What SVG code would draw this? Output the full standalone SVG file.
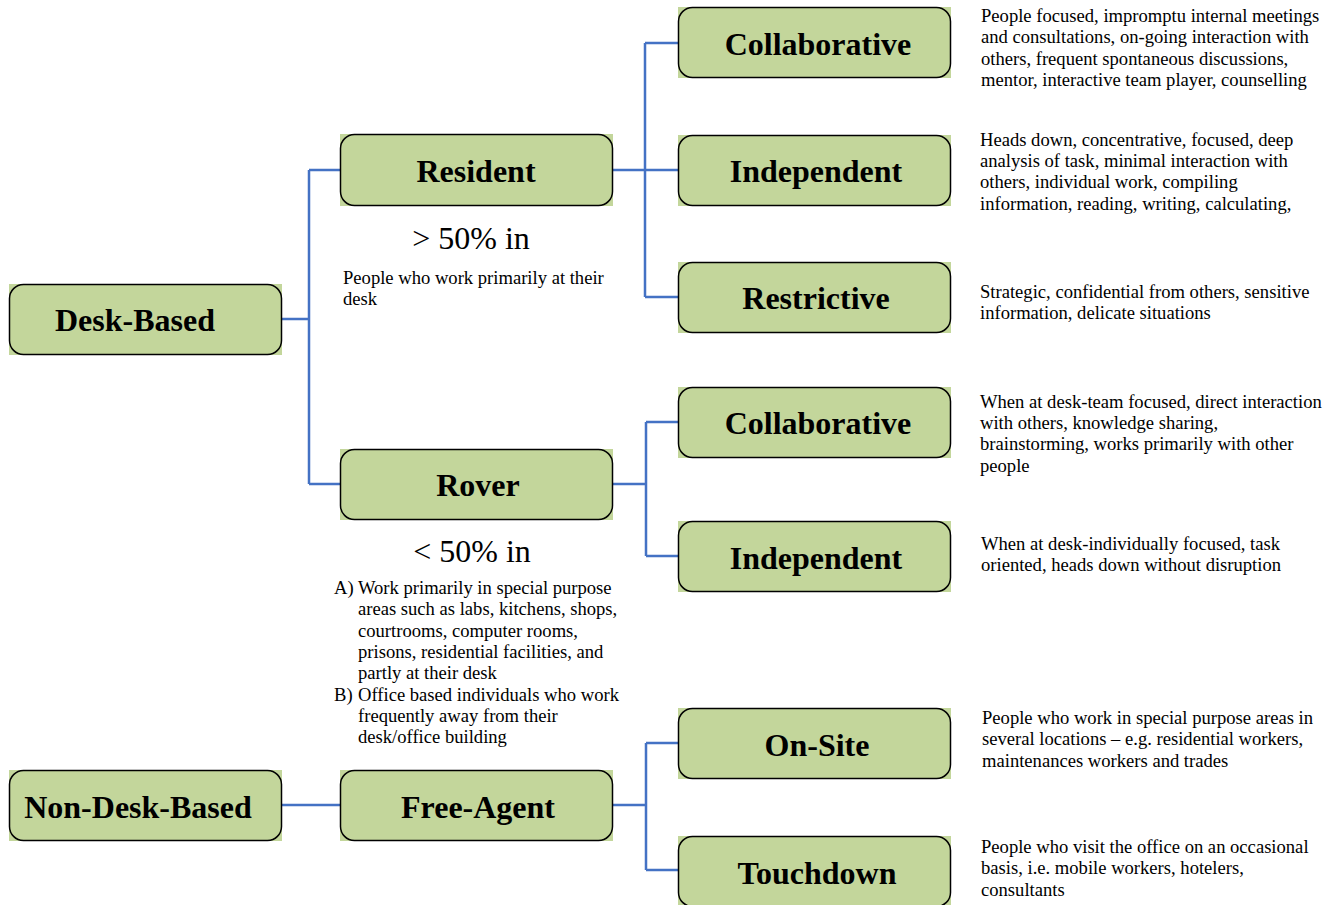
<svg xmlns="http://www.w3.org/2000/svg" width="1333" height="905" viewBox="0 0 1333 905">
<style>
.bg{fill:#c3d69b}
.box{fill:#c3d69b;stroke:#000;stroke-width:1.5}
.lbl{font-family:"Liberation Serif","Times New Roman",serif;font-weight:bold;font-size:32px;fill:#000;text-anchor:middle}
.desc{font-family:"Liberation Serif","Times New Roman",serif;font-size:18.6px;fill:#000}
.pct{font-family:"Liberation Serif","Times New Roman",serif;font-size:32px;fill:#000;text-anchor:middle}
.con{fill:none;stroke:#4472c4;stroke-width:2.5}
</style>
<rect width="1333" height="905" fill="#fff"/>
<g id="connectors">
<path class="con" d="M282,319 H309 M309,170 V484 M309,170 H340 M309,484 H340"/>
<path class="con" d="M613,170 H678 M645,43 V297 M645,43 H678 M645,297 H678"/>
<path class="con" d="M613,484 H646 M646,422 V556 M646,422 H678 M646,556 H678"/>
<path class="con" d="M282,805 H340"/>
<path class="con" d="M613,805 H646 M646,743 V870 M646,743 H678 M646,870 H678"/>
</g>
<g id="desk-based"><rect class="bg" x="9" y="284" width="273" height="71"/><rect class="box" x="9.5" y="284.5" width="272" height="70" rx="14"/><text class="lbl" x="135" y="331">Desk-Based</text></g>
<g id="resident"><rect class="bg" x="340" y="134" width="273" height="72"/><rect class="box" x="340.5" y="134.5" width="272" height="71" rx="14"/><text class="lbl" x="476" y="182">Resident</text></g>
<g id="resident-note"><text class="pct" x="471" y="249">&gt; 50% in</text><text class="desc" x="343" y="284">People who work primarily at their</text><text class="desc" x="343" y="305">desk</text></g>
<g id="collaborative-1"><rect class="bg" x="678" y="7" width="273" height="71"/><rect class="box" x="678.5" y="7.5" width="272" height="70" rx="14"/><text class="lbl" x="818" y="55">Collaborative</text></g>
<g id="independent-1"><rect class="bg" x="678" y="135" width="273" height="71"/><rect class="box" x="678.5" y="135.5" width="272" height="70" rx="14"/><text class="lbl" x="816" y="182">Independent</text></g>
<g id="restrictive"><rect class="bg" x="678" y="262" width="273" height="71"/><rect class="box" x="678.5" y="262.5" width="272" height="70" rx="14"/><text class="lbl" x="816" y="309">Restrictive</text></g>
<g id="collaborative-2"><rect class="bg" x="678" y="387" width="273" height="71"/><rect class="box" x="678.5" y="387.5" width="272" height="70" rx="14"/><text class="lbl" x="818" y="434">Collaborative</text></g>
<g id="rover"><rect class="bg" x="340" y="449" width="273" height="71"/><rect class="box" x="340.5" y="449.5" width="272" height="70" rx="14"/><text class="lbl" x="478" y="496">Rover</text></g>
<g id="rover-note"><text class="pct" x="472" y="562">&lt; 50% in</text>
<text class="desc" x="334" y="594">A)</text>
<text class="desc" x="358" y="594">Work primarily in special purpose</text>
<text class="desc" x="358" y="615">areas such as labs, kitchens, shops,</text>
<text class="desc" x="358" y="637">courtrooms, computer rooms,</text>
<text class="desc" x="358" y="658">prisons, residential facilities, and</text>
<text class="desc" x="358" y="679">partly at their desk</text>
<text class="desc" x="334" y="701">B)</text>
<text class="desc" x="358" y="701">Office based individuals who work</text>
<text class="desc" x="358" y="722">frequently away from their</text>
<text class="desc" x="358" y="743">desk/office building</text></g>
<g id="independent-2"><rect class="bg" x="678" y="521" width="273" height="71"/><rect class="box" x="678.5" y="521.5" width="272" height="70" rx="14"/><text class="lbl" x="816" y="569">Independent</text></g>
<g id="on-site"><rect class="bg" x="678" y="708" width="273" height="71"/><rect class="box" x="678.5" y="708.5" width="272" height="70" rx="14"/><text class="lbl" x="817" y="756">On-Site</text></g>
<g id="non-desk-based"><rect class="bg" x="9" y="770" width="273" height="71"/><rect class="box" x="9.5" y="770.5" width="272" height="70" rx="14"/><text class="lbl" x="138" y="818">Non-Desk-Based</text></g>
<g id="free-agent"><rect class="bg" x="340" y="770" width="273" height="71"/><rect class="box" x="340.5" y="770.5" width="272" height="70" rx="14"/><text class="lbl" x="478" y="818">Free-Agent</text></g>
<g id="touchdown"><rect class="bg" x="678" y="836" width="273" height="71"/><rect class="box" x="678.5" y="836.5" width="272" height="70" rx="14"/><text class="lbl" x="817" y="884">Touchdown</text></g>
<g id="descriptions">
<text class="desc" x="981" y="22">People focused, impromptu internal meetings</text>
<text class="desc" x="981" y="43">and consultations, on-going interaction with</text>
<text class="desc" x="981" y="65">others, frequent spontaneous discussions,</text>
<text class="desc" x="981" y="86">mentor, interactive team player, counselling</text>
<text class="desc" x="980" y="146">Heads down, concentrative, focused, deep</text>
<text class="desc" x="980" y="167">analysis of task, minimal interaction with</text>
<text class="desc" x="980" y="188">others, individual work, compiling</text>
<text class="desc" x="980" y="210">information, reading, writing, calculating,</text>
<text class="desc" x="980" y="298">Strategic, confidential from others, sensitive</text>
<text class="desc" x="980" y="319">information, delicate situations</text>
<text class="desc" x="980" y="408">When at desk-team focused, direct interaction</text>
<text class="desc" x="980" y="429">with others, knowledge sharing,</text>
<text class="desc" x="980" y="450">brainstorming, works primarily with other</text>
<text class="desc" x="980" y="472">people</text>
<text class="desc" x="981" y="550">When at desk-individually focused, task</text>
<text class="desc" x="981" y="571">oriented, heads down without disruption</text>
<text class="desc" x="982" y="724">People who work in special purpose areas in</text>
<text class="desc" x="982" y="745">several locations – e.g. residential workers,</text>
<text class="desc" x="982" y="767">maintenances workers and trades</text>
<text class="desc" x="981" y="853">People who visit the office on an occasional</text>
<text class="desc" x="981" y="874">basis, i.e. mobile workers, hotelers,</text>
<text class="desc" x="981" y="896">consultants</text>
</g>
</svg>
